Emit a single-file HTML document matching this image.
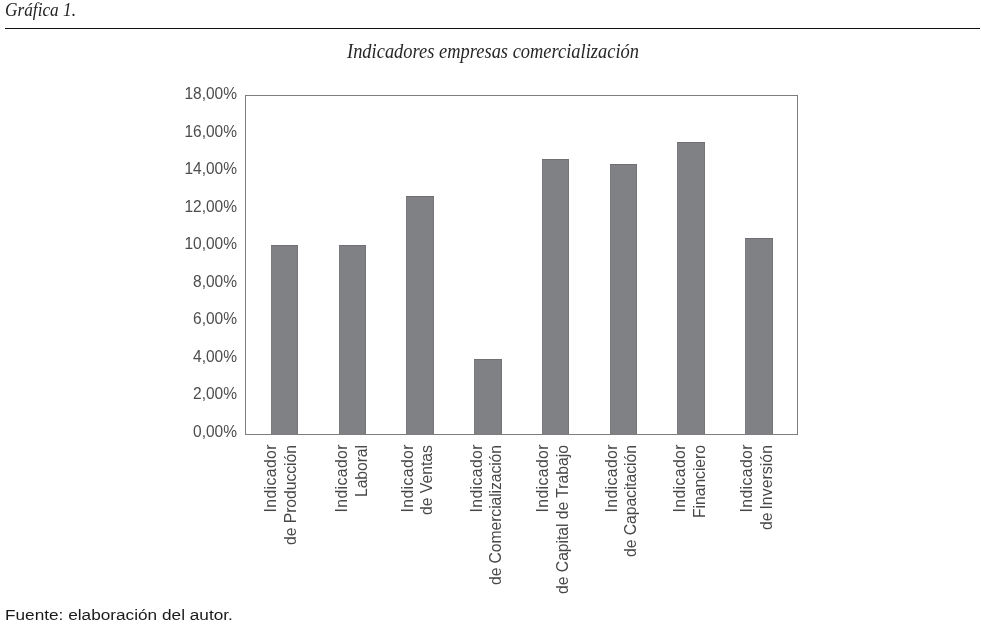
<!DOCTYPE html>
<html><head><meta charset="utf-8">
<style>
html,body{margin:0;padding:0;background:#fff;width:981px;height:626px;overflow:hidden}
svg{display:block;will-change:transform}
.sans{font-family:"Liberation Sans",sans-serif}
.serif{font-family:"Liberation Serif",serif;font-style:italic}
</style></head><body>
<svg width="981" height="626" viewBox="0 0 981 626" xmlns="http://www.w3.org/2000/svg">
<rect x="0" y="0" width="981" height="626" fill="#fff"/>
<text class="serif" x="5" y="16" font-size="18" fill="#222" textLength="71" lengthAdjust="spacingAndGlyphs">Gráfica 1.</text>
<rect x="5" y="28" width="975" height="1" fill="#111"/>
<text class="serif" x="347" y="57.5" font-size="20" fill="#262626" textLength="292" lengthAdjust="spacingAndGlyphs">Indicadores empresas comercialización</text>
<rect x="245.5" y="95.5" width="552" height="339" fill="none" stroke="#7d7d7d" stroke-width="1"/>
<g>
<rect x="271" y="245" width="27" height="189" fill="#808185"/>
<rect x="271" y="245" width="1" height="189" fill="#7b7b7f"/>
<rect x="297" y="245" width="1" height="189" fill="#757579"/>
<rect x="271" y="245" width="27" height="1" fill="#707074"/>
<rect x="339" y="245" width="27" height="189" fill="#808185"/>
<rect x="339" y="245" width="1" height="189" fill="#7b7b7f"/>
<rect x="365" y="245" width="1" height="189" fill="#757579"/>
<rect x="339" y="245" width="27" height="1" fill="#707074"/>
<rect x="406" y="196" width="28" height="238" fill="#808185"/>
<rect x="406" y="196" width="1" height="238" fill="#7b7b7f"/>
<rect x="433" y="196" width="1" height="238" fill="#757579"/>
<rect x="406" y="196" width="28" height="1" fill="#707074"/>
<rect x="474" y="359" width="28" height="75" fill="#808185"/>
<rect x="474" y="359" width="1" height="75" fill="#7b7b7f"/>
<rect x="501" y="359" width="1" height="75" fill="#757579"/>
<rect x="474" y="359" width="28" height="1" fill="#707074"/>
<rect x="542" y="159" width="27" height="275" fill="#808185"/>
<rect x="542" y="159" width="1" height="275" fill="#7b7b7f"/>
<rect x="568" y="159" width="1" height="275" fill="#757579"/>
<rect x="542" y="159" width="27" height="1" fill="#707074"/>
<rect x="610" y="164" width="27" height="270" fill="#808185"/>
<rect x="610" y="164" width="1" height="270" fill="#7b7b7f"/>
<rect x="636" y="164" width="1" height="270" fill="#757579"/>
<rect x="610" y="164" width="27" height="1" fill="#707074"/>
<rect x="677" y="142" width="28" height="292" fill="#808185"/>
<rect x="677" y="142" width="1" height="292" fill="#7b7b7f"/>
<rect x="704" y="142" width="1" height="292" fill="#757579"/>
<rect x="677" y="142" width="28" height="1" fill="#707074"/>
<rect x="745" y="238" width="28" height="196" fill="#808185"/>
<rect x="745" y="238" width="1" height="196" fill="#7b7b7f"/>
<rect x="772" y="238" width="1" height="196" fill="#757579"/>
<rect x="745" y="238" width="28" height="1" fill="#707074"/>
</g>
<g class="sans" font-size="15.8" fill="#4d4d4d" text-anchor="end">
<text x="237" y="99.00" textLength="52.6" lengthAdjust="spacingAndGlyphs">18,00%</text>
<text x="237" y="136.56" textLength="52.6" lengthAdjust="spacingAndGlyphs">16,00%</text>
<text x="237" y="174.11" textLength="52.6" lengthAdjust="spacingAndGlyphs">14,00%</text>
<text x="237" y="211.67" textLength="52.6" lengthAdjust="spacingAndGlyphs">12,00%</text>
<text x="237" y="249.22" textLength="52.6" lengthAdjust="spacingAndGlyphs">10,00%</text>
<text x="237" y="286.78" textLength="44" lengthAdjust="spacingAndGlyphs">8,00%</text>
<text x="237" y="324.33" textLength="44" lengthAdjust="spacingAndGlyphs">6,00%</text>
<text x="237" y="361.89" textLength="44" lengthAdjust="spacingAndGlyphs">4,00%</text>
<text x="237" y="399.44" textLength="44" lengthAdjust="spacingAndGlyphs">2,00%</text>
<text x="237" y="437.00" textLength="44" lengthAdjust="spacingAndGlyphs">0,00%</text>
</g>
<g class="sans" font-size="15.8" fill="#474747" text-anchor="end">
<text transform="translate(276,444.5) rotate(-90)" textLength="68">Indicador</text>
<text transform="translate(296,445) rotate(-90)" textLength="100">de Producción</text>
<text transform="translate(347,444.5) rotate(-90)" textLength="68">Indicador</text>
<text transform="translate(367,445) rotate(-90)" textLength="52">Laboral</text>
<text transform="translate(412.6,444.5) rotate(-90)" textLength="68">Indicador</text>
<text transform="translate(432,445) rotate(-90)" textLength="70">de Ventas</text>
<text transform="translate(481.7,444.5) rotate(-90)" textLength="68">Indicador</text>
<text transform="translate(501,445) rotate(-90)" textLength="140">de Comercialización</text>
<text transform="translate(547.6,444.5) rotate(-90)" textLength="68">Indicador</text>
<text transform="translate(567.8,445) rotate(-90)" textLength="149">de Capital de Trabajo</text>
<text transform="translate(616.7,444.5) rotate(-90)" textLength="68">Indicador</text>
<text transform="translate(636,445) rotate(-90)" textLength="112">de Capacitación</text>
<text transform="translate(684.5,444.5) rotate(-90)" textLength="68">Indicador</text>
<text transform="translate(704.6,445) rotate(-90)" textLength="73">Financiero</text>
<text transform="translate(752.4,444.5) rotate(-90)" textLength="68">Indicador</text>
<text transform="translate(772,445) rotate(-90)" textLength="85">de Inversión</text>
</g>
<text class="sans" transform="translate(5,620) scale(1.149,1)" x="0" y="0" font-size="15" fill="#1a1a1a">Fuente: elaboración del autor.</text>
</svg>
</body></html>
